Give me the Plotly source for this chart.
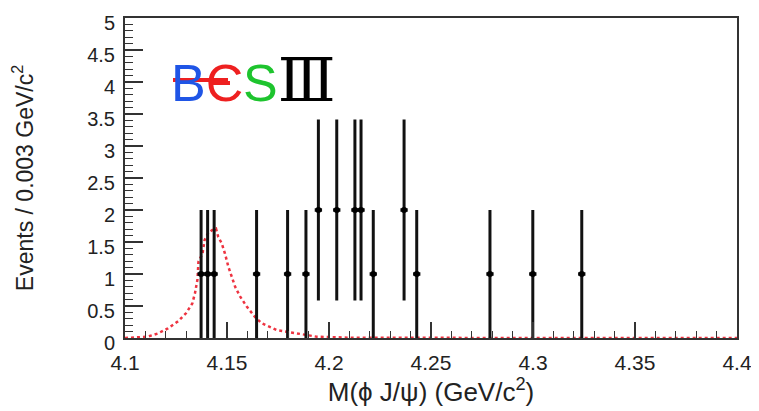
import plotly.graph_objects as go

# ---- data ----
evt_mass = [4.1373, 4.1405, 4.1437, 4.1645, 4.1797, 4.1887, 4.1948, 4.2038,
            4.2127, 4.2157, 4.2217, 4.2368, 4.2430, 4.2789, 4.2999, 4.3239]
evt_count = [1, 1, 1, 1, 1, 1, 2, 2, 2, 2, 1, 2, 1, 1, 1, 1]
evt_err = [1.0, 1.0, 1.0, 1.0, 1.0, 1.0, 1.414, 1.414,
           1.414, 1.414, 1.0, 1.414, 1.0, 1.0, 1.0, 1.0]
bin_half = [0.0018] * len(evt_mass)

mc_mass = [4.100, 4.105, 4.111, 4.116, 4.121, 4.126, 4.130, 4.133, 4.1343,
           4.1355, 4.136, 4.138, 4.139, 4.1408, 4.1433, 4.1446, 4.1457, 4.1474,
           4.149, 4.1507, 4.1523, 4.154, 4.1564, 4.1597, 4.1637, 4.167, 4.1744,
           4.1858, 4.194, 4.21, 4.25, 4.30, 4.35, 4.40]
mc_shape = [0, 0.005, 0.02, 0.07, 0.15, 0.26, 0.39, 0.54, 0.70,
            0.91, 1.19, 1.32, 1.53, 1.64, 1.70, 1.71, 1.58, 1.48,
            1.32, 1.11, 0.96, 0.80, 0.65, 0.49, 0.33, 0.23, 0.125,
            0.06, 0.02, 0.005, 0, 0, 0, 0]

x_ticks = [4.1, 4.15, 4.2, 4.25, 4.3, 4.35, 4.4]
x_tick_text = ["4.1", "4.15", "4.2", "4.25", "4.3", "4.35", "4.4"]
y_ticks = [0, 0.5, 1, 1.5, 2, 2.5, 3, 3.5, 4, 4.5, 5]
y_tick_text = ["0", "0.5", "1", "1.5", "2", "2.5", "3", "3.5", "4", "4.5", "5"]

# page body has an 8px margin: figure is shifted by 8px right and down
OFF = 8
W, H = 759 - OFF, 411 - OFF
PL, PR, PT, PB = 125, 737, 18, 338          # plot area in screen pixels
L, R, T, B = PL - OFF, 759 - PR, PT - OFF, 411 - PB
FONT = "Liberation Sans, Arial, sans-serif"
INK = "#222222"

fig = go.Figure()
fig.add_trace(go.Scatter(
    x=mc_mass, y=mc_shape, mode="lines",
    line=dict(color="#ee3340", width=2.5, dash="3px,3px"),
    hoverinfo="skip", showlegend=False))
fig.add_trace(go.Scatter(
    x=evt_mass, y=evt_count, mode="markers",
    marker=dict(color="black", size=6, symbol="circle"),
    error_y=dict(type="data", array=evt_err, color="#111111", thickness=3, width=0),
    error_x=dict(type="data", array=bin_half, color="#111111", thickness=3.5, width=0),
    showlegend=False))

def px(xpix):
    return (xpix - PL) / (PR - PL)

def py(ypix):
    return (PB - ypix) / (PB - PT)

logo_text = ("<span style='color:#1f55e6'>B</span>"
             "<span style='color:#ee2020'>Є</span>"
             "<span style='color:#1ec42e'>S</span>"
             "<span style='color:#000000;font-family:DejaVu Serif;font-size:60px'>Ⅲ</span>")

fig.update_layout(
    width=W, height=H,
    margin=dict(l=L, r=R, t=T, b=B, autoexpand=False),
    paper_bgcolor="white", plot_bgcolor="white",
    font=dict(family=FONT, color=INK),
    annotations=[dict(
        text=logo_text, x=px(169), y=py(80), xref="paper", yref="paper",
        xanchor="left", yanchor="middle", showarrow=False,
        font=dict(family="Liberation Sans, sans-serif", size=52))],
    shapes=[dict(type="line", xref="paper", yref="paper",
                 x0=px(173), x1=px(228), y0=py(80), y1=py(80),
                 line=dict(color="#ee2020", width=4))],
    xaxis=dict(
        range=[4.1, 4.4], tickvals=x_ticks, ticktext=x_tick_text, automargin=False,
        ticks="inside", ticklen=16, tickwidth=1.5, tickcolor="#333",
        minor=dict(dtick=0.01, ticks="inside", ticklen=7, tickwidth=1, tickcolor="#333"),
        showline=True, linecolor="#333", linewidth=2, mirror=True,
        showgrid=False, zeroline=False, ticklabelstandoff=5,
        tickfont=dict(size=21, color=INK),
        title=dict(text="M(ϕ J/ψ) (GeV/c<sup>2</sup>)", font=dict(size=26, color=INK), standoff=10)),
    yaxis=dict(
        range=[0, 5], tickvals=y_ticks, ticktext=y_tick_text, automargin=False,
        ticks="inside", ticklen=18, tickwidth=1.5, tickcolor="#333",
        minor=dict(dtick=0.1, ticks="inside", ticklen=8, tickwidth=1, tickcolor="#333"),
        showline=True, linecolor="#333", linewidth=2, mirror=True,
        showgrid=False, zeroline=False, ticklabelshift=5, ticklabelstandoff=4,
        tickfont=dict(size=20, color=INK),
        title=dict(text="Events / 0.003 GeV/c<sup>2</sup>", font=dict(size=23, color=INK), standoff=54)),
)

fig.write_html("out.html")
